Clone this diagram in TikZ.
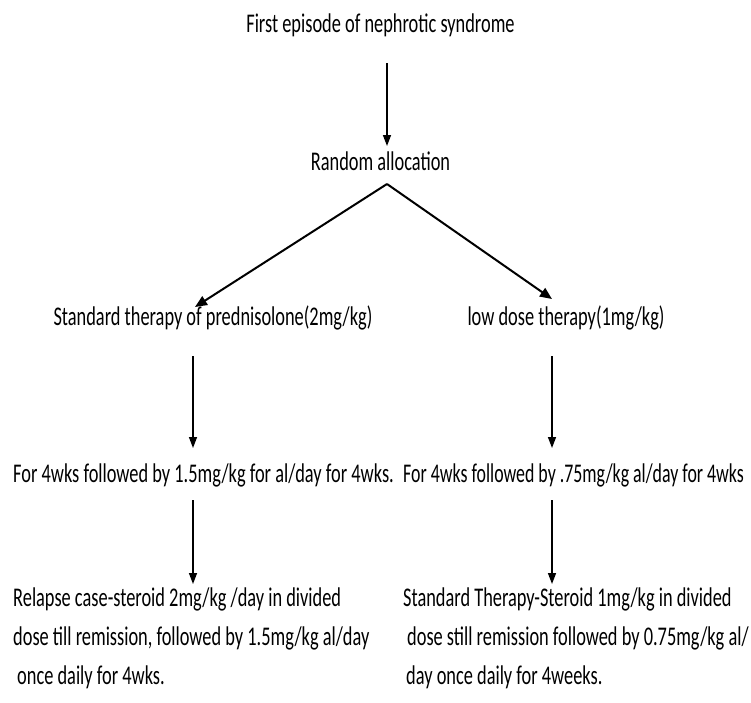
\documentclass[tikz,border=0pt]{standalone}
\usepackage{fontspec}
\setmainfont{Carlito}[FakeStretch=0.68]
\usetikzlibrary{arrows.meta}
\begin{document}
\begin{tikzpicture}[x=1pt,y=-1pt,
  lbl/.style={inner sep=0pt, font=\fontsize{27}{32}\selectfont, text=black},
  arr/.style={line width=1.4pt, -{Triangle[length=11pt,width=8pt]}},
  barr/.style={line width=2pt, -{Triangle[length=12pt,width=10pt]}}]
\useasboundingbox (0,0) rectangle (751,702);
% texts
\node[lbl, anchor=base] (first) at (380.5,32) {First episode of nephrotic syndrome};
\node[lbl, anchor=base] (rand) at (380.5,170) {Random allocation};
\node[lbl, anchor=base] (std) at (213,325) {Standard therapy of prednisolone(2mg/kg)};
\node[lbl, anchor=base] (low) at (566,325) {low dose therapy(1mg/kg)};
\node[lbl, anchor=base west] (l4) at (13,482) {For 4wks followed by 1.5mg/kg for al/day for 4wks.};
\node[lbl, anchor=base west, xscale=0.972, transform shape] (r4) at (403,482) {For 4wks followed by .75mg/kg al/day for 4wks};
\node[lbl, anchor=base west] (lr1) at (13,606) {Relapse case-steroid 2mg/kg /day in divided};
\node[lbl, anchor=base west] (lr2) at (13,645) {dose till remission, followed by 1.5mg/kg al/day};
\node[lbl, anchor=base west] (lr3) at (17,684) {once daily for 4wks.};
\node[lbl, anchor=base west] (rr1) at (403,606) {Standard Therapy-Steroid 1mg/kg in divided};
\node[lbl, anchor=base west] (rr2) at (407,645) {dose still remission followed by 0.75mg/kg al/};
\node[lbl, anchor=base west] (rr3) at (406,684) {day once daily for 4weeks.};
% connector end points
\coordinate (a1s) at (387,63);
\coordinate (a1e) at (387,146);
\coordinate (apex) at (387,184);
\coordinate (bl) at (195,307);
\coordinate (br) at (552,299);
\coordinate (l1s) at (193,356);
\coordinate (l1e) at (193,448);
\coordinate (r1s) at (552,356);
\coordinate (r1e) at (552,448);
\coordinate (l2s) at (193,500);
\coordinate (l2e) at (193,584);
\coordinate (r2s) at (552,500);
\coordinate (r2e) at (552,584);
% connectors
\draw[arr] (a1s) -- (a1e);
\draw[barr] (apex) -- (bl);
\draw[barr] (apex) -- (br);
\draw[arr] (l1s) -- (l1e);
\draw[arr] (r1s) -- (r1e);
\draw[arr] (l2s) -- (l2e);
\draw[arr] (r2s) -- (r2e);
\end{tikzpicture}
\end{document}
